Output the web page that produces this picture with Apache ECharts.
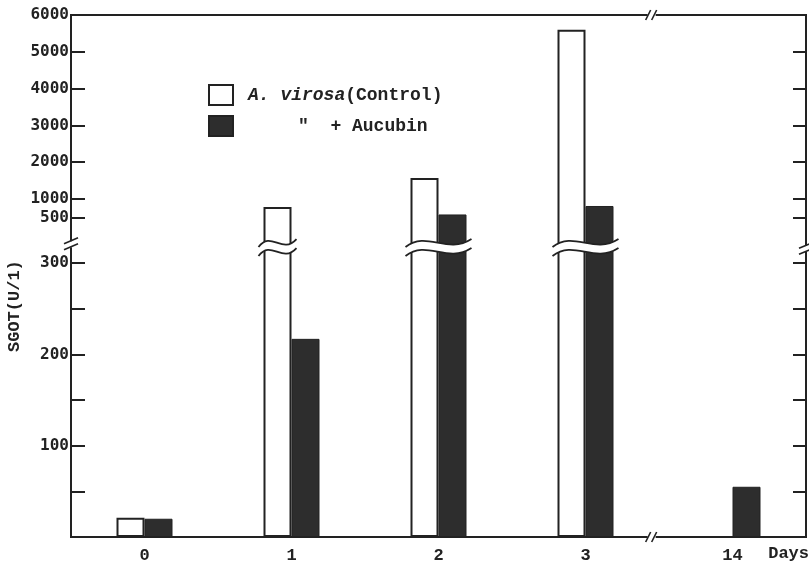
<!DOCTYPE html>
<html><head><meta charset="utf-8">
<script src="https://cdn.jsdelivr.net/npm/echarts@6/dist/echarts.min.js"></script>
<style>html,body{margin:0;padding:0;background:#fff}#c{width:809px;height:565px}</style>
</head><body><div id="c"></div><script>
// ---- data ----
const days = ['0', '1', '2', '3', '14'];
const control = [21, 785, 1570, 5600, null];
const aucubin = [20, 217, 580, 810, 55];
const lowerTickValues = [50, 100, 150, 200, 250, 300];
const lowerLabelValues = [100, 200, 300];
const upperTickValues = [500, 1000, 2000, 3000, 4000, 5000];
const upperLabelValues = [500, 1000, 2000, 3000, 4000, 5000, 6000];

// ---- broken-axis mapping (lower 0-300 linear, upper 500-6000 compressed) ----
const LOW_MAX = 300, UP_MIN = 500, UP_BASE = 350, UP_SLOPE = 0.0403, TOP_VALUE = 6000;
function toAxis(v) {
  if (v == null) return null;
  if (v <= LOW_MAX) return v;
  if (v >= UP_MIN) return UP_BASE + (v - UP_MIN) * UP_SLOPE;
  return LOW_MAX + (v - LOW_MAX) / (UP_MIN - LOW_MAX) * (UP_BASE - LOW_MAX);
}
const AXIS_MAX = toAxis(TOP_VALUE);
const key = v => Number(v).toFixed(3);
const labelMap = {};
lowerLabelValues.concat(upperLabelValues).forEach(v => { labelMap[key(toAxis(v))] = String(v); });
const tickVals = lowerTickValues.concat(upperTickValues).map(toAxis);
const labelVals = lowerLabelValues.concat(upperLabelValues).map(toAxis);

const WAVE_U = 317, LEFT_BREAK_U = 320, RIGHT_BREAK_U = 315;
const BAR_W = 28;
const INK = '#222';
const waveIdx = days.map((d, i) => i).filter(i => (control[i] || 0) > LOW_MAX || (aucubin[i] || 0) > LOW_MAX);

const chart = echarts.init(document.getElementById('c'), null, {renderer: 'canvas'});

function wavePts(x0, x1, y) {
  const w = x1 - x0;
  return [x0, y + 4, x0 + 0.33 * w, y - 13, x0 + 0.62 * w, y + 12, x1, y - 4];
}

const option = {
  backgroundColor: '#fff',
  animation: false,
  grid: {left: 71, right: 3, top: 15, bottom: 28, show: true, borderColor: INK, borderWidth: 2, backgroundColor: 'transparent'},
  legend: {
    orient: 'vertical', left: 203, top: 79, itemWidth: 24, itemHeight: 20, itemGap: 9,
    icon: 'rect', selectedMode: false,
    data: ['control', 'aucubin'],
    formatter: name => name === 'control' ? '{it|A. virosa}{n|(Control)}' : '{q|"}{n|  + Aucubin}',
    textStyle: {
      color: INK, fontFamily: 'Liberation Mono', fontSize: 18, fontWeight: 'bold',
      rich: {
        it: {fontStyle: 'italic', fontFamily: 'Liberation Mono', fontSize: 18, color: INK, padding: [0, 0, 0, 10]},
        n: {fontFamily: 'Liberation Mono', fontSize: 18, fontWeight: 'bold', color: INK},
        q: {fontFamily: 'Liberation Mono', fontSize: 18, fontWeight: 'bold', color: INK, padding: [0, 0, 0, 60]}
      }
    }
  },
  xAxis: [{
    type: 'category', data: days, position: 'bottom',
    axisLine: {lineStyle: {color: INK, width: 2}},
    axisTick: {show: false},
    axisLabel: {margin: 10, color: INK, fontFamily: 'Liberation Mono', fontSize: 17, fontWeight: 'bold'}
  }],
  yAxis: [{
    type: 'value', min: 0, max: AXIS_MAX, position: 'left',
    splitLine: {show: false},
    axisLine: {show: true, lineStyle: {color: INK, width: 2}},
    axisTick: {show: true, inside: true, length: 14, customValues: tickVals, lineStyle: {color: INK, width: 2}},
    axisLabel: {customValues: labelVals, formatter: v => labelMap[key(v)] || '', margin: 2,
      color: INK, fontFamily: 'DejaVu Sans Mono', fontSize: 16, fontWeight: 'bold'}
  }, {
    type: 'value', min: 0, max: AXIS_MAX, position: 'right',
    splitLine: {show: false},
    axisLine: {show: true, lineStyle: {color: INK, width: 2}},
    axisTick: {show: true, inside: true, length: 13, customValues: tickVals, lineStyle: {color: INK, width: 2}},
    axisLabel: {show: false}
  }],
  graphic: [
    {type: 'text', rotation: Math.PI / 2, x: 6, y: 352, style: {text: 'SGOT(U/1)', fill: INK, font: 'bold 17px "Liberation Mono"'}},
    {type: 'text', right: 0, top: 545, style: {text: 'Days', fill: INK, font: 'bold 17px "Liberation Mono"'}}
  ],
  series: [
    {name: 'control', type: 'bar', data: control.map(toAxis), barWidth: BAR_W, barGap: '0%',
      itemStyle: {color: '#fff', borderColor: INK, borderWidth: 2}},
    {name: 'aucubin', type: 'bar', data: aucubin.map(toAxis), barWidth: BAR_W, barGap: '0%',
      itemStyle: {color: '#2d2d2d', borderColor: INK, borderWidth: 1}},
    {
      type: 'custom', z: 5, clip: false, silent: true,
      data: waveIdx.map(i => [i, WAVE_U]), encode: {x: 0, y: 1},
      renderItem: (params, api) => {
        const i = api.value(0);
        const c = api.coord([i, api.value(1)]);
        const left = (control[i] || 0) > LOW_MAX ? c[0] - BAR_W - 5 : c[0] - 5;
        const right = (aucubin[i] || 0) > LOW_MAX ? c[0] + BAR_W + 5 : c[0] + 5;
        const h = 4.5;
        const t = wavePts(left, right, c[1] - h);
        const b = wavePts(left, right, c[1] + h);
        const band = `M${t[0]} ${t[1]} C${t[2]} ${t[3]} ${t[4]} ${t[5]} ${t[6]} ${t[7]} L${b[6]} ${b[7]} C${b[4]} ${b[5]} ${b[2]} ${b[3]} ${b[0]} ${b[1]} Z`;
        return {type: 'group', children: [
          {type: 'path', shape: {pathData: band}, style: {fill: '#fff', stroke: null}},
          {type: 'bezierCurve', shape: {x1: t[0], y1: t[1], cpx1: t[2], cpy1: t[3], cpx2: t[4], cpy2: t[5], x2: t[6], y2: t[7]}, style: {fill: null, stroke: INK, lineWidth: 1.8}},
          {type: 'bezierCurve', shape: {x1: b[0], y1: b[1], cpx1: b[2], cpy1: b[3], cpx2: b[4], cpy2: b[5], x2: b[6], y2: b[7]}, style: {fill: null, stroke: INK, lineWidth: 1.8}}
        ]};
      }
    },
    {
      type: 'custom', z: 6, clip: false, silent: true,
      data: [[0, LEFT_BREAK_U]], encode: {x: 0, y: 1},
      renderItem: (params, api) => {
        const cs = params.coordSys;
        const ax = cs.x, rx = cs.x + cs.width, ty = cs.y, by = cs.y + cs.height;
        const yl = api.coord([0, LEFT_BREAK_U])[1];
        const yr = api.coord([0, RIGHT_BREAK_U])[1];
        const c3 = api.coord([3, 0])[0], c4 = api.coord([4, 0])[0];
        const xb = c3 + 0.45 * (c4 - c3);
        const L = (x1, y1, x2, y2) => ({type: 'line', shape: {x1, y1, x2, y2}, style: {stroke: INK, lineWidth: 1.6}});
        const W = (x, y, w, h) => ({type: 'rect', shape: {x, y, width: w, height: h}, style: {fill: '#fff'}});
        const vBreak = (x, y) => [W(x - 3, y - 3.5, 6, 6), L(x - 7, y - 1, x + 7, y - 7), L(x - 7, y + 5, x + 7, y - 1)];
        const hBreak = (x, y) => [W(x - 4, y - 3, 8, 6), L(x - 6, y + 5, x - 1, y - 5), L(x, y + 5, x + 5, y - 5)];
        return {type: 'group', children: [].concat(vBreak(ax, yl), vBreak(rx, yr), hBreak(xb, ty), hBreak(xb, by))};
      }
    }
  ]
};
chart.setOption(option);
</script></body></html>
